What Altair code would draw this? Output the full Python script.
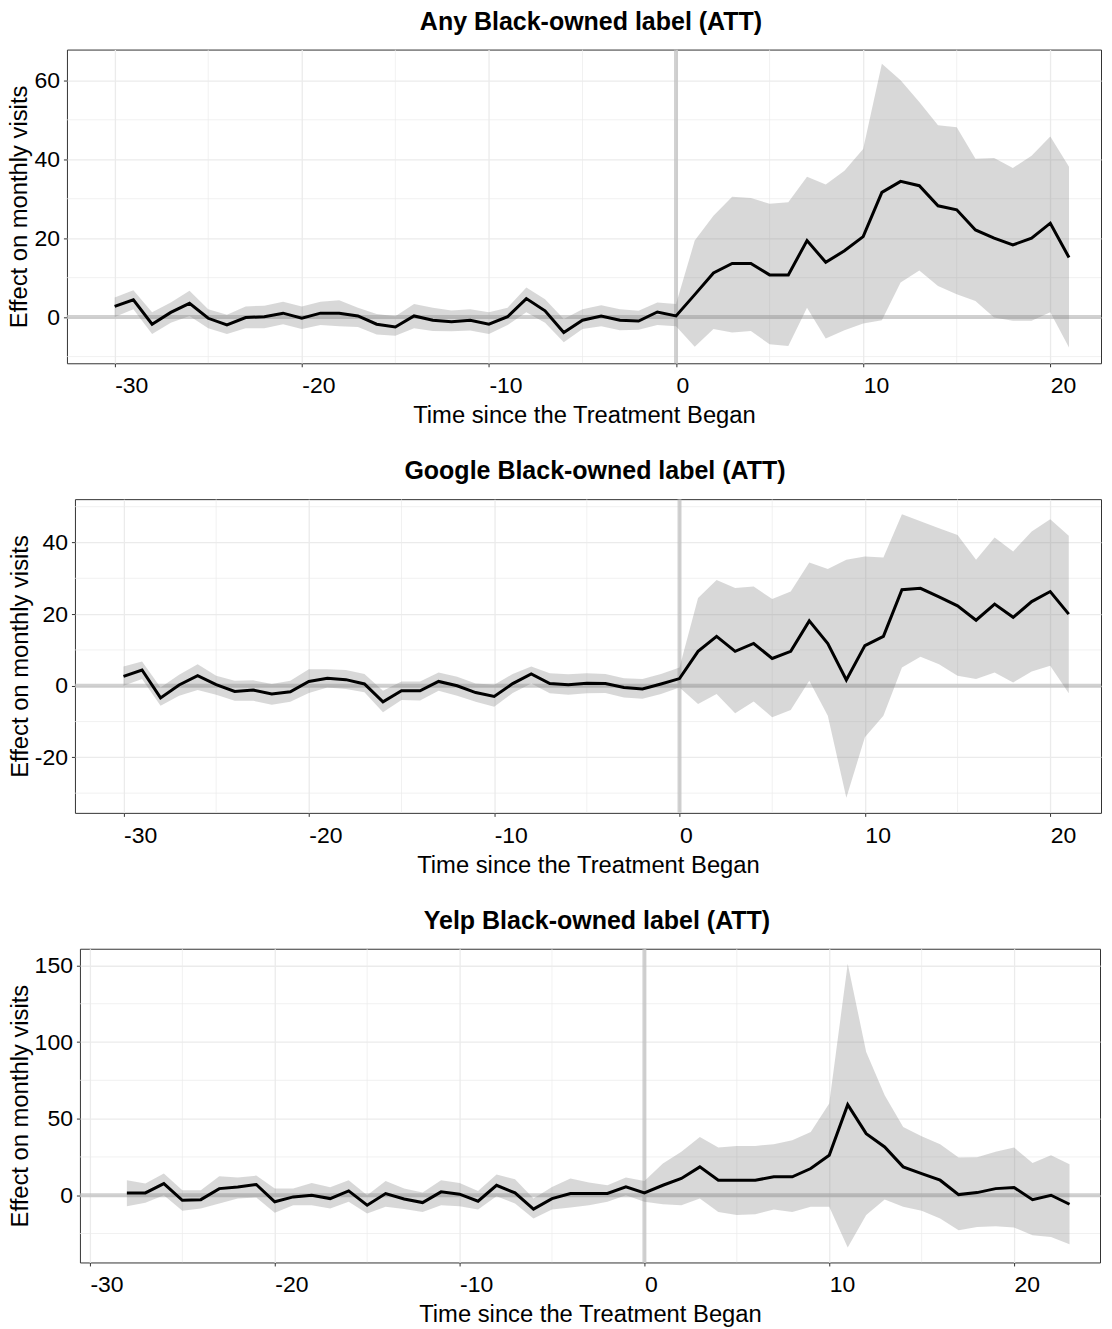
import altair as alt
import pandas as pd

FONT = "Liberation Sans"

# ---------------- data ----------------
t1 = list(range(-30, 22))
est1 = [2.7, 4.4, -1.8, 1.2, 3.5, -0.3, -2.0, -0.1, 0.1, 1.0, -0.3, 1.0, 1.0, 0.3, -1.8, -2.5,
        0.3, -0.8, -1.2, -0.8, -1.8, 0.1, 4.7, 1.6, -3.9, -0.8, 0.3, -0.8, -1.0, 1.3, 0.3,
        5.7, 11.2, 13.6, 13.6, 10.7, 10.7, 19.4, 13.9, 16.8, 20.4, 31.6, 34.4, 33.3, 28.2,
        27.2, 22.1, 20.0, 18.3, 20.0, 23.8, 15.1]
hi1 = [5.0, 6.8, 1.2, 3.7, 6.7, 2.0, 0.6, 2.7, 2.9, 3.9, 2.7, 3.9, 4.3, 2.4, 0.8, 0.2,
       3.3, 2.4, 1.7, 2.0, 1.2, 2.4, 7.5, 4.5, -0.5, 2.0, 3.0, 2.0, 1.6, 3.7, 3.3,
       19.4, 25.7, 30.5, 30.2, 28.7, 29.1, 35.6, 33.6, 37.1, 42.6, 64.2, 60.0, 54.5, 48.6,
       48.1, 40.1, 40.3, 37.8, 40.9, 45.8, 38.1]
lo1 = [0.0, 2.0, -4.3, -1.4, 0.3, -2.8, -4.3, -2.8, -2.8, -1.8, -3.0, -2.0, -2.3, -2.5, -4.4, -4.7,
       -2.8, -3.5, -3.6, -3.4, -4.3, -2.0, 1.2, -1.4, -6.4, -3.0, -2.3, -3.3, -3.2, -2.0, -2.3,
       -7.5, -3.0, -3.9, -3.5, -6.9, -7.3, 2.4, -5.4, -3.3, -1.6, -0.8, 8.8, 11.8, 7.9,
       5.8, 4.1, -0.1, -0.9, -0.9, 1.2, -7.7]

t2 = list(range(-30, 22))
est2 = [2.6, 4.4, -3.4, 0.2, 2.8, 0.3, -1.6, -1.2, -2.3, -1.7, 1.2, 2.1, 1.7, 0.5, -4.5, -1.4, -1.4,
        1.2, 0.0, -1.9, -3.0, 0.6, 3.3, 0.6, 0.3, 0.7, 0.6, -0.5, -0.9, 0.5, 2.0,
        9.6, 13.8, 9.6, 11.8, 7.6, 9.6, 18.1, 11.8, 1.6, 11.2, 13.8, 26.8, 27.2, 24.8, 22.3,
        18.3, 22.8, 19.1, 23.5, 26.3, 20.0]
hi2 = [5.4, 6.8, -0.5, 3.1, 6.0, 2.8, 1.4, 1.5, 0.5, 1.4, 4.6, 4.6, 4.4, 3.3, -1.4, 1.2, 1.2,
       3.7, 2.5, 0.6, 0.3, 3.3, 5.4, 3.5, 3.2, 3.5, 3.3, 2.1, 1.9, 3.3, 5.1,
       24.5, 29.5, 27.3, 27.7, 24.2, 26.3, 34.4, 32.6, 35.2, 36.1, 35.8, 47.9, 45.9, 44.0, 42.1,
       35.2, 41.4, 37.5, 43.1, 46.5, 41.9]
lo2 = [0.0, 1.9, -5.6, -2.8, -1.2, -2.5, -4.2, -4.2, -5.3, -4.5, -2.0, -0.5, -0.9, -1.8, -7.4, -4.0, -4.1,
       -1.4, -2.8, -4.5, -5.9, -2.0, 0.6, -2.1, -2.5, -2.1, -2.0, -3.3, -3.6, -2.3, -0.5,
       -5.1, -2.3, -7.7, -4.4, -8.8, -6.8, 1.4, -8.4, -31.3, -14.4, -8.4, 5.1, 8.1, 6.0, 2.8,
       1.9, 3.7, 0.9, 4.0, 5.6, -2.1]

t3 = list(range(-28, 24))
est3 = [1.5, 1.5, 7.6, -3.3, -2.9, 4.3, 5.4, 7.0, -4.3, -1.1, 0.0, -2.2, 2.8, -6.5, 1.1, -2.5,
        -4.8, 2.2, 0.7, -3.9, 6.5, 1.5, -9.1, -2.2, 1.1, 1.1, 1.1, 5.4, 1.5,
        6.5, 10.9, 18.5, 9.8, 9.8, 9.8, 12.0, 12.0, 17.4, 26.1, 59.1, 40.2, 31.5, 18.5, 14.1,
        9.8, 0.4, 1.7, 4.3, 5.0, -2.9, 0.0, -5.9]
hi3 = [9.8, 7.6, 14.1, 3.3, 3.3, 12.4, 11.5, 12.8, 4.3, 4.3, 8.0, 5.2, 9.8, 0.0, 9.3, 4.3,
       1.7, 9.8, 8.0, 2.8, 13.5, 10.4, -2.2, 5.4, 10.9, 8.3, 6.5, 11.5, 9.3,
       20.7, 28.3, 38.0, 31.1, 32.2, 32.2, 33.3, 35.9, 41.3, 59.8, 151.1, 93.5, 65.2, 44.6, 38.5,
       33.3, 24.6, 24.8, 28.3, 31.1, 21.1, 26.1, 20.2]
lo3 = [-7.2, -5.0, 0.0, -10.2, -8.7, -5.4, -2.2, -1.5, -11.5, -6.5, -6.5, -8.7, -4.3, -12.0, -7.6, -9.0,
       -10.9, -6.5, -7.2, -9.4, -0.7, -5.4, -15.2, -9.4, -8.0, -6.5, -4.3, 0.0, -4.3,
       -5.9, -6.5, -2.2, -10.9, -13.0, -12.4, -9.4, -10.9, -7.6, -7.6, -34.1, -13.0, -2.8, -7.6,
       -10.2, -15.2, -22.8, -20.7, -20.2, -21.1, -26.1, -27.2, -32.0]

titles = ["Any Black-owned label (ATT)", "Google Black-owned label (ATT)", "Yelp Black-owned label (ATT)"]
x_title = "Time since the Treatment Began"
y_title = "Effect on monthly visits"

x_major = [-30, -20, -10, 0, 10, 20]
x_minor = [-25, -15, -5, 5, 15, 25]
y1_major = [0, 20, 40, 60]
y1_minor = [-10, 10, 30, 50]
y2_major = [-20, 0, 20, 40]
y2_minor = [-30, -10, 10, 30, 50]
y3_major = [0, 50, 100, 150]
y3_minor = [-25, 25, 75, 125]
zero_line = [0]


def panel(title, t, est, lo, hi, xdom, ydom, width, ymajor, yminor):
    df = pd.DataFrame({"t": t, "est": est, "lo": lo, "hi": hi})
    xs = alt.Scale(domain=xdom, nice=False, zero=False)
    ys = alt.Scale(domain=ydom, nice=False, zero=False)

    common = dict(grid=True, gridColor="#ebebeb", gridWidth=1.3, domain=False,
                  tickColor="#333333", tickSize=3.5, tickWidth=1,
                  labelFont=FONT, labelFontSize=23, labelColor="black",
                  titleFont=FONT, titleFontSize=23.8, titleFontWeight="normal", titleColor="black",
                  labelExpr="'' + datum.value", labelFlush=False)
    xaxis = alt.Axis(values=x_major, title=x_title, labelAlign="left",
                     labelPadding=8, titlePadding=6, **common)
    yaxis = alt.Axis(values=ymajor, title=y_title, labelPadding=4, titlePadding=2, **common)

    vmin = alt.Chart(pd.DataFrame({"v": x_minor})).mark_rule(
        color="#ebebeb", strokeWidth=0.7, clip=True).encode(x=alt.X("v:Q", scale=xs, axis=xaxis))
    hmin = alt.Chart(pd.DataFrame({"v": yminor})).mark_rule(
        color="#ebebeb", strokeWidth=0.7, clip=True).encode(y=alt.Y("v:Q", scale=ys, axis=yaxis))
    zdf = pd.DataFrame({"v": zero_line})
    vzero = alt.Chart(zdf).mark_rule(color="#bebebe", opacity=0.7, strokeWidth=4).encode(
        x=alt.X("v:Q", scale=xs, axis=xaxis))
    hzero = alt.Chart(zdf).mark_rule(color="#bebebe", opacity=0.7, strokeWidth=4).encode(
        y=alt.Y("v:Q", scale=ys, axis=yaxis))
    band = alt.Chart(df).mark_area(color="#7f7f7f", opacity=0.3).encode(
        x=alt.X("t:Q", scale=xs, axis=xaxis),
        y=alt.Y("lo:Q", scale=ys, axis=yaxis),
        y2="hi:Q")
    line = alt.Chart(df).mark_line(color="black", strokeWidth=3).encode(
        x=alt.X("t:Q", scale=xs, axis=xaxis),
        y=alt.Y("est:Q", scale=ys, axis=yaxis))

    body = alt.layer(vmin, hmin, vzero, hzero, band, line).properties(
        width=width, height=314,
        title=alt.TitleParams(title, font=FONT, fontSize=25, fontWeight="bold",
                              color="black", anchor="middle", offset=13, dx=7))
    spacer = alt.Chart(pd.DataFrame({"s": [0]})).mark_point(opacity=0).properties(
        width=1, height=1, view=alt.ViewBackground(strokeOpacity=0))
    return alt.hconcat(spacer, body, spacing=0)


p1 = panel(titles[0], t1, est1, lo1, hi1, [-32.55, 22.71], [-11.7, 67.8], 1035, y1_major, y1_minor)
p2 = panel(titles[1], t2, est2, lo2, hi2, [-32.62, 22.74], [-35.5, 52.1], 1027, y2_major, y2_minor)
p3 = panel(titles[2], t3, est3, lo3, hi3, [-30.54, 24.65], [-43.9, 160.9], 1021, y3_major, y3_minor)

chart = alt.vconcat(p1, p2, p3, spacing=30).properties(
    padding={"left": -8, "top": 0, "right": 0, "bottom": 0}
).configure_view(stroke="#333333", strokeWidth=1)

chart.save("out.html", embed_options={"renderer": "svg", "actions": False})
